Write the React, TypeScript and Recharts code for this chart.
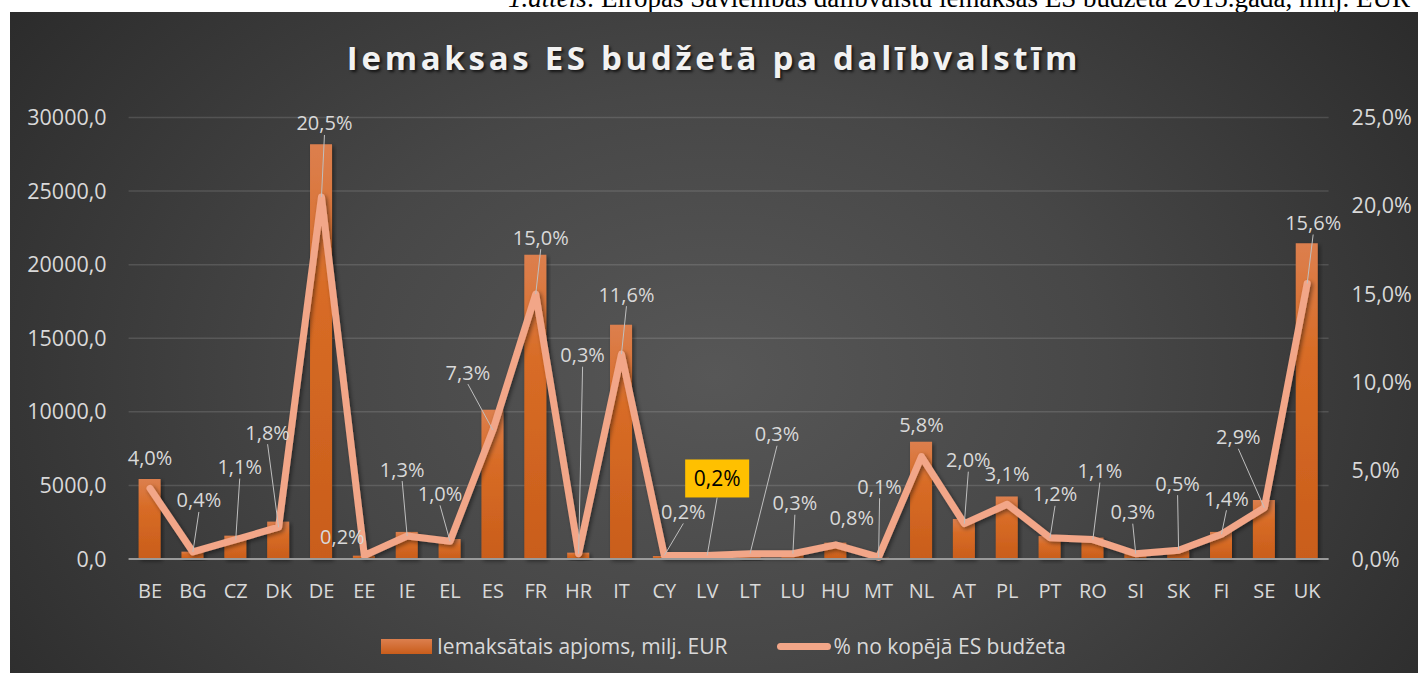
import { ComposedChart, Bar, Line, XAxis, YAxis, CartesianGrid, LabelList } from 'recharts';

const countries = ['BE', 'BG', 'CZ', 'DK', 'DE', 'EE', 'IE', 'EL', 'ES', 'FR', 'HR', 'IT', 'CY', 'LV', 'LT', 'LU', 'HU', 'MT', 'NL', 'AT', 'PL', 'PT', 'RO', 'SI', 'SK', 'FI', 'SE', 'UK'];
const amounts = [5440, 500, 1585, 2540, 28190, 225, 1840, 1360, 10140, 20680, 430, 15920, 200, 250, 380, 330, 1110, 80, 7960, 2720, 4240, 1565, 1450, 380, 650, 1840, 4010, 21450];
const shares = [4.0, 0.4, 1.1, 1.8, 20.5, 0.2, 1.3, 1.0, 7.3, 15.0, 0.3, 11.6, 0.2, 0.2, 0.3, 0.3, 0.8, 0.1, 5.8, 2.0, 3.1, 1.2, 1.1, 0.3, 0.5, 1.4, 2.9, 15.6];
const leftTicks = [0, 5000, 10000, 15000, 20000, 25000, 30000];
const rightTicks = [0, 5, 10, 15, 20, 25];
const highlighted = 'LV';

// where Excel moved each data label, relative to its point (px)
const labelOffsets = [
  [0, -31], [6, -52], [4, -73], [-11, -95], [3, -74], [-22, -19], [-5, -67], [-10, -48],
  [-25, -58], [5, -57], [4, -199], [5, -60], [19, -44], [10, -77], [27, -120], [2, -51],
  [16, -27], [1, -71], [0, -32], [4, -64], [0, -31], [5, -44], [7, -69], [-3, -42],
  [-1, -67], [5, -36], [-26, -71], [6, -61],
];

const data = countries.map((c, i) => ({ country: c, amount: amounts[i], share: shares[i] }));

const fmt = (v: number) => v.toFixed(1).replace('.', ',');
const textColor = '#d9d9d9';
const font = '"Open Sans", sans-serif';

function ShareLabel(props: any) {
  const { x, y, index, value } = props;
  const [dx, dy] = labelOffsets[index];
  const lx = x + dx;
  const ly = y + dy;
  const isHl = countries[index] === highlighted;
  const leader = Math.abs(dy) > 35;
  return (
    <g>
      {leader && (
        <line x1={lx} y1={ly + (isHl ? 19 : 12)} x2={x} y2={y} stroke="#bfbfbf" strokeWidth={1} />
      )}
      {isHl && <rect x={lx - 32} y={ly - 19} width={64} height={38} fill="#FFC000" />}
      <text
        x={lx}
        y={ly}
        textAnchor="middle"
        dominantBaseline="central"
        fontSize={isHl ? 21 : 20}
        fontFamily={font}
        fill={isHl ? '#000000' : textColor}
      >
        {fmt(value) + '%'}
      </text>
    </g>
  );
}

export default function App() {
  return (
    <div style={{ position: 'absolute', left: 0, top: 0, width: 1418, height: 673, background: '#ffffff', overflow: 'hidden' }}>
      <div
        style={{
          position: 'absolute', right: 8, top: -15.5, lineHeight: '27px', fontSize: 27,
          fontFamily: '"Liberation Serif", serif', color: '#000', whiteSpace: 'nowrap',
        }}
      >
        <i>1.attēls</i>: Eiropas Savienības dalībvalstu iemaksas ES budžetā 2015.gadā, milj. EUR
      </div>
      <div
        style={{
          position: 'absolute', left: 10, top: 12, width: 1408, height: 661,
          background: 'radial-gradient(ellipse 62% 95% at 50% 55%, #575757 0%, #474747 45%, #2b2b2b 100%)',
        }}
      >
        <div
          style={{
            position: 'absolute', left: 0, width: 1408, top: 23, textAlign: 'center',
            fontFamily: font, fontWeight: 700, fontSize: 33, letterSpacing: 3.7, color: '#f2f2f2',
            textShadow: '2px 2px 3px rgba(0,0,0,0.7)',
          }}
        >
          Iemaksas ES budžetā pa dalībvalstīm
        </div>
        <ComposedChart
          width={1408}
          height={661}
          data={data}
          margin={{ top: 105.5, right: 0, left: 0, bottom: 74 }}
          style={{ fontFamily: font }}
        >
          <defs>
            <linearGradient id="barFill" x1="0" y1="0" x2="0" y2="1">
              <stop offset="0%" stopColor="#dc7f4e" />
              <stop offset="35%" stopColor="#d86c26" />
              <stop offset="100%" stopColor="#c95d1b" />
            </linearGradient>
            <filter id="shadow" x="-20%" y="-20%" width="140%" height="140%">
              <feDropShadow dx="2" dy="2" stdDeviation="2" floodColor="#000" floodOpacity="0.45" />
            </filter>
          </defs>
          <CartesianGrid vertical={false} stroke="rgba(255,255,255,0.13)" strokeWidth={1.5} yAxisId="left" />
          <XAxis
            dataKey="country"
            interval={0}
            tickLine={false}
            tickSize={0}
            tickMargin={25}
            height={40}
            axisLine={{ stroke: '#9a9a9a', strokeWidth: 2 }}
            tick={{ fill: textColor, fontSize: 20, fontFamily: font }}
          />
          <YAxis
            yAxisId="left"
            orientation="left"
            width={118.6}
            domain={[0, 30000]}
            ticks={leftTicks}
            tickFormatter={fmt}
            axisLine={false}
            tickLine={false}
            tickSize={0}
            tickMargin={22}
            tick={{ fill: textColor, fontSize: 21.5, fontFamily: font }}
          />
          <YAxis
            yAxisId="right"
            orientation="right"
            width={89.4}
            domain={[0, 25]}
            ticks={rightTicks}
            tickFormatter={(v: number) => fmt(v) + '%'}
            axisLine={false}
            tickLine={false}
            tickSize={0}
            tickMargin={23}
            tick={{ fill: textColor, fontSize: 21.5, fontFamily: font, textAnchor: 'start' }}
          />
          <Bar
            yAxisId="left"
            dataKey="amount"
            barSize={22}
            fill="url(#barFill)"
            filter="url(#shadow)"
            isAnimationActive={false}
          />
          <Line
            yAxisId="right"
            dataKey="share"
            type="linear"
            stroke="#f2a688"
            strokeWidth={7}
            strokeLinejoin="round"
            strokeLinecap="round"
            dot={false}
            activeDot={false}
            filter="url(#shadow)"
            isAnimationActive={false}
          >
            <LabelList dataKey="share" content={ShareLabel} />
          </Line>
        </ComposedChart>
        <div
          style={{
            position: 'absolute', left: 371, top: 620, display: 'flex', alignItems: 'center',
            fontFamily: font, fontSize: 21, color: textColor, whiteSpace: 'nowrap',
          }}
        >
          <span style={{ display: 'inline-block', width: 51, height: 15, background: 'linear-gradient(#dc7f4e, #c95d1b)', marginRight: 5 }} />
          <span>Iemaksātais apjoms, milj. EUR</span>
          <span style={{ display: 'inline-block', width: 54, height: 7, borderRadius: 4, background: '#f2a688', marginLeft: 50, marginRight: 2 }} />
          <span>% no kopējā ES budžeta</span>
        </div>
      </div>
    </div>
  );
}
